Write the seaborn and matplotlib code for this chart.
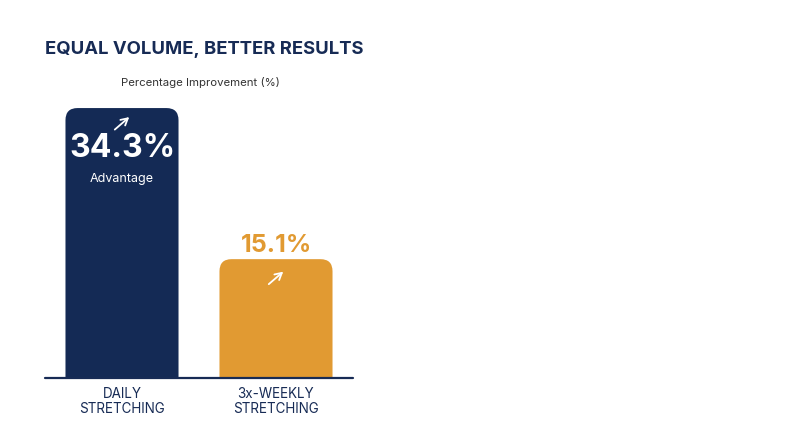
import matplotlib
matplotlib.use('Agg')
import matplotlib.pyplot as plt
import matplotlib.transforms as mtransforms
import seaborn as sns
import pandas as pd
from matplotlib.patches import FancyBboxPatch

# data
categories = ["DAILY\nSTRETCHING", "3x-WEEKLY\nSTRETCHING"]
improvement = [34.3, 15.1]
bar_colors = ["#142a55", "#e19a32"]

NAVY = "#172b55"
ORANGE = "#e19a32"

sns.set_theme(style="white")
plt.rcParams['font.family'] = ['Inter', 'DejaVu Sans']

fig = plt.figure(figsize=(8, 4.47), dpi=100)
# axes: x 45..353 px, baseline at 378 px from top
ax = fig.add_axes([45 / 800, 69 / 447, 308 / 800, 351 / 447])

df = pd.DataFrame({"cat": categories, "val": improvement})
sns.barplot(data=df, x="cat", y="val", hue="cat", palette=bar_colors,
            width=0.734, saturation=1, legend=False, ax=ax)
ax.set_xlim(-0.5, 1.5)
ax.set_ylim(0, 44.6)

# swap bars for rounded-top versions
rx = 0.078
aspect = 1.54 / rx
for p in list(ax.patches):
    x, w, h = p.get_x(), p.get_width(), p.get_height()
    fc = p.get_facecolor()
    p.remove()
    ax.add_patch(FancyBboxPatch((x, -3), w, h + 3,
                                boxstyle=f"round,pad=0,rounding_size={rx}",
                                mutation_aspect=aspect, fc=fc, ec="none"))

ax.axhline(0, color=NAVY, lw=1.6, clip_on=False)
for s in ax.spines.values():
    s.set_visible(False)
ax.set_xlabel("")
ax.set_ylabel("")
ax.set_yticks([])
ax.tick_params(axis="x", length=0, pad=6.5)
for lbl in ax.get_xticklabels():
    lbl.set_fontsize(9.7)
    lbl.set_color(NAVY)
    lbl.set_linespacing(1.1)


def up_arrow(xi, top, dy):
    # small "trend up" arrow drawn below the bar top, dy in points
    tail = mtransforms.offset_copy(ax.transData, fig, x=-5.2, y=dy - 4.5, units="points")
    head = mtransforms.offset_copy(ax.transData, fig, x=5.2, y=dy + 4.5, units="points")
    ax.annotate("", xy=(xi, top), xycoords=head, xytext=(xi, top), textcoords=tail,
                arrowprops=dict(arrowstyle="->,head_length=0.4,head_width=0.22",
                                color="white", lw=1.3, shrinkA=0, shrinkB=0))


# labels on bars
up_arrow(0, improvement[0], -11)
ax.annotate(f"{improvement[0]}%", (0, improvement[0]), xytext=(0, -29), textcoords="offset points",
            ha="center", va="center", fontsize=23, fontweight="bold", color="white")
ax.annotate("Advantage", (0, improvement[0]), xytext=(0, -51), textcoords="offset points",
            ha="center", va="center", fontsize=9, color="white")

ax.annotate(f"{improvement[1]}%", (1, improvement[1]), xytext=(0, 9.5), textcoords="offset points",
            ha="center", va="center", fontsize=18, fontweight="bold", color=ORANGE)
up_arrow(1, improvement[1], -13.5)

fig.text(45 / 800, 1 - 50 / 447, "EQUAL VOLUME, BETTER RESULTS", ha="left", va="center",
         fontsize=13.3, fontweight="bold", color=NAVY)
fig.text(200 / 800, 1 - 83 / 447, "Percentage Improvement (%)", ha="center", va="center",
         fontsize=8.2, color="#333333")

fig.savefig("out.png", dpi=100, facecolor="white")
